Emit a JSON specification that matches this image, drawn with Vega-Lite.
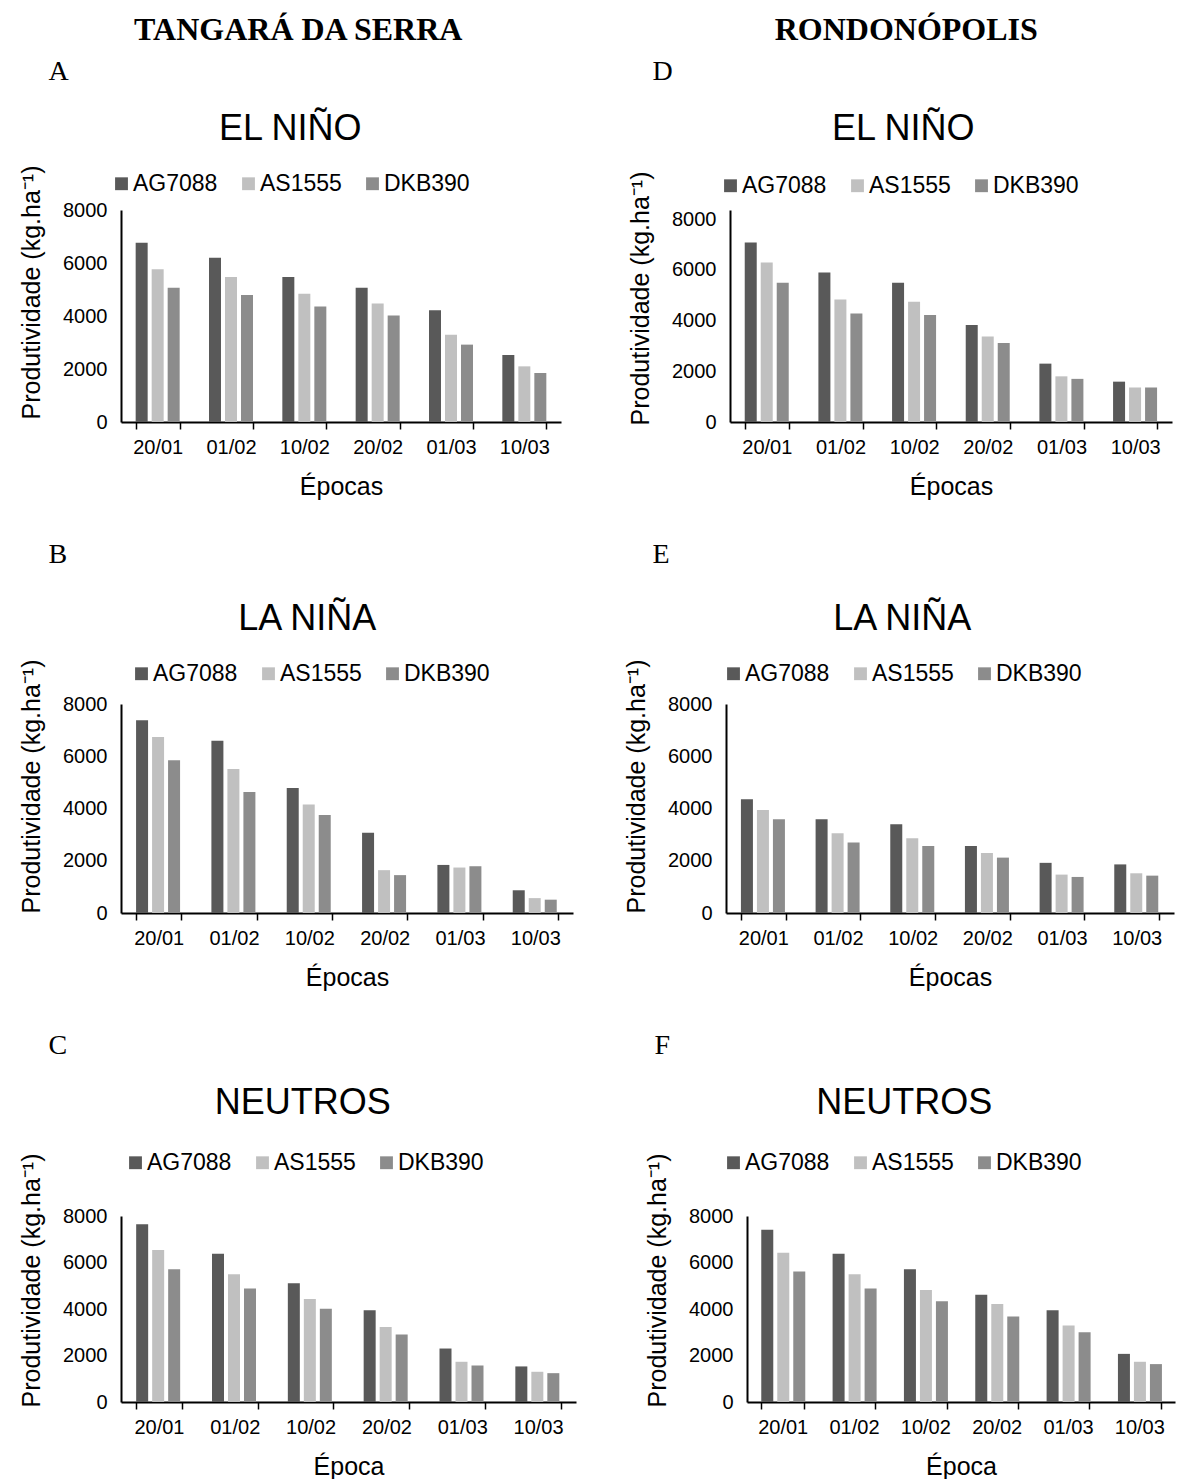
{
  "$schema": "https://vega.github.io/schema/vega-lite/v6.json",
  "background": "white",
  "padding": {"left": 19, "top": 14, "right": 2, "bottom": 0},
  "data": {"values": [
    {"painel":"A","epoca":"20/01","hibrido":"AG7088","prod":6760},{"painel":"A","epoca":"20/01","hibrido":"AS1555","prod":5760},{"painel":"A","epoca":"20/01","hibrido":"DKB390","prod":5070},
    {"painel":"A","epoca":"01/02","hibrido":"AG7088","prod":6200},{"painel":"A","epoca":"01/02","hibrido":"AS1555","prod":5470},{"painel":"A","epoca":"01/02","hibrido":"DKB390","prod":4790},
    {"painel":"A","epoca":"10/02","hibrido":"AG7088","prod":5470},{"painel":"A","epoca":"10/02","hibrido":"AS1555","prod":4840},{"painel":"A","epoca":"10/02","hibrido":"DKB390","prod":4360},
    {"painel":"A","epoca":"20/02","hibrido":"AG7088","prod":5070},{"painel":"A","epoca":"20/02","hibrido":"AS1555","prod":4470},{"painel":"A","epoca":"20/02","hibrido":"DKB390","prod":4020},
    {"painel":"A","epoca":"01/03","hibrido":"AG7088","prod":4220},{"painel":"A","epoca":"01/03","hibrido":"AS1555","prod":3290},{"painel":"A","epoca":"01/03","hibrido":"DKB390","prod":2920},
    {"painel":"A","epoca":"10/03","hibrido":"AG7088","prod":2530},{"painel":"A","epoca":"10/03","hibrido":"AS1555","prod":2100},{"painel":"A","epoca":"10/03","hibrido":"DKB390","prod":1850},
    {"painel":"D","epoca":"20/01","hibrido":"AG7088","prod":7070},{"painel":"D","epoca":"20/01","hibrido":"AS1555","prod":6290},{"painel":"D","epoca":"20/01","hibrido":"DKB390","prod":5490},
    {"painel":"D","epoca":"01/02","hibrido":"AG7088","prod":5890},{"painel":"D","epoca":"01/02","hibrido":"AS1555","prod":4830},{"painel":"D","epoca":"01/02","hibrido":"DKB390","prod":4280},
    {"painel":"D","epoca":"10/02","hibrido":"AG7088","prod":5490},{"painel":"D","epoca":"10/02","hibrido":"AS1555","prod":4740},{"painel":"D","epoca":"10/02","hibrido":"DKB390","prod":4220},
    {"painel":"D","epoca":"20/02","hibrido":"AG7088","prod":3820},{"painel":"D","epoca":"20/02","hibrido":"AS1555","prod":3370},{"painel":"D","epoca":"20/02","hibrido":"DKB390","prod":3110},
    {"painel":"D","epoca":"01/03","hibrido":"AG7088","prod":2300},{"painel":"D","epoca":"01/03","hibrido":"AS1555","prod":1800},{"painel":"D","epoca":"01/03","hibrido":"DKB390","prod":1700},
    {"painel":"D","epoca":"10/03","hibrido":"AG7088","prod":1590},{"painel":"D","epoca":"10/03","hibrido":"AS1555","prod":1360},{"painel":"D","epoca":"10/03","hibrido":"DKB390","prod":1360},
    {"painel":"B","epoca":"20/01","hibrido":"AG7088","prod":7380},{"painel":"B","epoca":"20/01","hibrido":"AS1555","prod":6740},{"painel":"B","epoca":"20/01","hibrido":"DKB390","prod":5850},
    {"painel":"B","epoca":"01/02","hibrido":"AG7088","prod":6590},{"painel":"B","epoca":"01/02","hibrido":"AS1555","prod":5510},{"painel":"B","epoca":"01/02","hibrido":"DKB390","prod":4630},
    {"painel":"B","epoca":"10/02","hibrido":"AG7088","prod":4780},{"painel":"B","epoca":"10/02","hibrido":"AS1555","prod":4150},{"painel":"B","epoca":"10/02","hibrido":"DKB390","prod":3750},
    {"painel":"B","epoca":"20/02","hibrido":"AG7088","prod":3070},{"painel":"B","epoca":"20/02","hibrido":"AS1555","prod":1640},{"painel":"B","epoca":"20/02","hibrido":"DKB390","prod":1450},
    {"painel":"B","epoca":"01/03","hibrido":"AG7088","prod":1840},{"painel":"B","epoca":"01/03","hibrido":"AS1555","prod":1740},{"painel":"B","epoca":"01/03","hibrido":"DKB390","prod":1790},
    {"painel":"B","epoca":"10/03","hibrido":"AG7088","prod":870},{"painel":"B","epoca":"10/03","hibrido":"AS1555","prod":570},{"painel":"B","epoca":"10/03","hibrido":"DKB390","prod":510},
    {"painel":"E","epoca":"20/01","hibrido":"AG7088","prod":4350},{"painel":"E","epoca":"20/01","hibrido":"AS1555","prod":3940},{"painel":"E","epoca":"20/01","hibrido":"DKB390","prod":3590},
    {"painel":"E","epoca":"01/02","hibrido":"AG7088","prod":3590},{"painel":"E","epoca":"01/02","hibrido":"AS1555","prod":3050},{"painel":"E","epoca":"01/02","hibrido":"DKB390","prod":2700},
    {"painel":"E","epoca":"10/02","hibrido":"AG7088","prod":3400},{"painel":"E","epoca":"10/02","hibrido":"AS1555","prod":2860},{"painel":"E","epoca":"10/02","hibrido":"DKB390","prod":2560},
    {"painel":"E","epoca":"20/02","hibrido":"AG7088","prod":2560},{"painel":"E","epoca":"20/02","hibrido":"AS1555","prod":2300},{"painel":"E","epoca":"20/02","hibrido":"DKB390","prod":2120},
    {"painel":"E","epoca":"01/03","hibrido":"AG7088","prod":1920},{"painel":"E","epoca":"01/03","hibrido":"AS1555","prod":1470},{"painel":"E","epoca":"01/03","hibrido":"DKB390","prod":1380},
    {"painel":"E","epoca":"10/03","hibrido":"AG7088","prod":1860},{"painel":"E","epoca":"10/03","hibrido":"AS1555","prod":1520},{"painel":"E","epoca":"10/03","hibrido":"DKB390","prod":1430},
    {"painel":"C","epoca":"20/01","hibrido":"AG7088","prod":7640},{"painel":"C","epoca":"20/01","hibrido":"AS1555","prod":6540},{"painel":"C","epoca":"20/01","hibrido":"DKB390","prod":5710},
    {"painel":"C","epoca":"01/02","hibrido":"AG7088","prod":6380},{"painel":"C","epoca":"01/02","hibrido":"AS1555","prod":5490},{"painel":"C","epoca":"01/02","hibrido":"DKB390","prod":4880},
    {"painel":"C","epoca":"10/02","hibrido":"AG7088","prod":5110},{"painel":"C","epoca":"10/02","hibrido":"AS1555","prod":4430},{"painel":"C","epoca":"10/02","hibrido":"DKB390","prod":4010},
    {"painel":"C","epoca":"20/02","hibrido":"AG7088","prod":3950},{"painel":"C","epoca":"20/02","hibrido":"AS1555","prod":3230},{"painel":"C","epoca":"20/02","hibrido":"DKB390","prod":2900},
    {"painel":"C","epoca":"01/03","hibrido":"AG7088","prod":2300},{"painel":"C","epoca":"01/03","hibrido":"AS1555","prod":1730},{"painel":"C","epoca":"01/03","hibrido":"DKB390","prod":1570},
    {"painel":"C","epoca":"10/03","hibrido":"AG7088","prod":1530},{"painel":"C","epoca":"10/03","hibrido":"AS1555","prod":1300},{"painel":"C","epoca":"10/03","hibrido":"DKB390","prod":1240},
    {"painel":"F","epoca":"20/01","hibrido":"AG7088","prod":7410},{"painel":"F","epoca":"20/01","hibrido":"AS1555","prod":6420},{"painel":"F","epoca":"20/01","hibrido":"DKB390","prod":5610},
    {"painel":"F","epoca":"01/02","hibrido":"AG7088","prod":6380},{"painel":"F","epoca":"01/02","hibrido":"AS1555","prod":5490},{"painel":"F","epoca":"01/02","hibrido":"DKB390","prod":4880},
    {"painel":"F","epoca":"10/02","hibrido":"AG7088","prod":5710},{"painel":"F","epoca":"10/02","hibrido":"AS1555","prod":4820},{"painel":"F","epoca":"10/02","hibrido":"DKB390","prod":4330},
    {"painel":"F","epoca":"20/02","hibrido":"AG7088","prod":4610},{"painel":"F","epoca":"20/02","hibrido":"AS1555","prod":4220},{"painel":"F","epoca":"20/02","hibrido":"DKB390","prod":3680},
    {"painel":"F","epoca":"01/03","hibrido":"AG7088","prod":3950},{"painel":"F","epoca":"01/03","hibrido":"AS1555","prod":3290},{"painel":"F","epoca":"01/03","hibrido":"DKB390","prod":3000},
    {"painel":"F","epoca":"10/03","hibrido":"AG7088","prod":2070},{"painel":"F","epoca":"10/03","hibrido":"AS1555","prod":1730},{"painel":"F","epoca":"10/03","hibrido":"DKB390","prod":1630}
  ]},
  "resolve": {"scale": {"x": "independent", "y": "independent", "color": "independent"}, "legend": {"color": "independent"}},
  "spacing": 42,
  "vconcat": [
    {
      "resolve": {"scale": {"x": "independent", "y": "independent", "color": "independent"}, "legend": {"color": "independent"}},
      "spacing": 67,
      "hconcat": [
        {
          "title": {"text": "TANGARÁ DA SERRA", "font": "Liberation Serif", "fontWeight": "bold", "fontSize": 32, "anchor": "middle", "frame": "bounds", "dx": 8, "offset": 11},
          "resolve": {"scale": {"color": "independent"}, "legend": {"color": "independent"}},
          "vconcat": [
            {
              "title": {"text": "A", "font": "Liberation Serif", "fontWeight": "normal", "fontSize": 28, "anchor": "start", "frame": "bounds", "dx": 29, "offset": 25},
              "resolve": {"scale": {"color": "independent"}, "legend": {"color": "independent"}},
              "vconcat": [
                {
                  "title": {"text": "EL NIÑO", "fontSize": 36, "frame": "bounds", "anchor": "middle", "offset": 17},
                  "width": 440, "height": 212,
                  "transform": [{"filter": "datum.painel === 'A'"}],
                  "mark": {"type": "bar"},
                  "encoding": {
                    "x": {"field": "epoca", "type": "nominal", "sort": ["20/01","01/02","10/02","20/02","01/03","10/03"], "scale": {"paddingInner": 0.4, "paddingOuter": 0.2}, "title": "Épocas"},
                    "xOffset": {"field": "hibrido", "type": "nominal", "sort": ["AG7088","AS1555","DKB390"], "scale": {"paddingInner": 0.25, "paddingOuter": 0}},
                    "y": {"field": "prod", "type": "quantitative", "scale": {"domain": [0, 8000], "nice": false}, "axis": {"values": [0,2000,4000,6000,8000], "format": "d", "titleY": 82}, "title": "Produtividade (kg.ha⁻¹)"},
                    "color": {"field": "hibrido", "type": "nominal", "scale": {"domain": ["AG7088","AS1555","DKB390"], "range": ["#595959","#c0c0c0","#8c8c8c"]}, "legend": {"title": null, "orient": "none", "legendX": -11, "legendY": -38}}
                  }
                }
              ]
            }
          ]
        },
        {
          "title": {"text": "RONDONÓPOLIS", "font": "Liberation Serif", "fontWeight": "bold", "fontSize": 32, "anchor": "middle", "frame": "bounds", "dx": 6, "offset": 11},
          "resolve": {"scale": {"color": "independent"}, "legend": {"color": "independent"}},
          "vconcat": [
            {
              "title": {"text": "D", "font": "Liberation Serif", "fontWeight": "normal", "fontSize": 28, "anchor": "start", "frame": "bounds", "dx": 24, "offset": 25},
              "resolve": {"scale": {"color": "independent"}, "legend": {"color": "independent"}},
              "vconcat": [
                {
                  "title": {"text": "EL NIÑO", "fontSize": 36, "frame": "bounds", "anchor": "middle", "offset": 23, "dx": 3},
                  "width": 442, "height": 212,
                  "transform": [{"filter": "datum.painel === 'D'"}],
                  "mark": {"type": "bar"},
                  "encoding": {
                    "x": {"field": "epoca", "type": "nominal", "sort": ["20/01","01/02","10/02","20/02","01/03","10/03"], "scale": {"paddingInner": 0.4, "paddingOuter": 0.2}, "title": "Épocas"},
                    "xOffset": {"field": "hibrido", "type": "nominal", "sort": ["AG7088","AS1555","DKB390"], "scale": {"paddingInner": 0.25, "paddingOuter": 0}},
                    "y": {"field": "prod", "type": "quantitative", "scale": {"domain": [0, 8355], "nice": false}, "axis": {"values": [0,2000,4000,6000,8000], "format": "d", "titleY": 88}, "title": "Produtividade (kg.ha⁻¹)"},
                    "color": {"field": "hibrido", "type": "nominal", "scale": {"domain": ["AG7088","AS1555","DKB390"], "range": ["#595959","#c0c0c0","#8c8c8c"]}, "legend": {"title": null, "orient": "none", "legendX": -11, "legendY": -36}}
                  }
                }
              ]
            }
          ]
        }
      ]
    },
    {
      "resolve": {"scale": {"x": "independent", "y": "independent", "color": "independent"}, "legend": {"color": "independent"}},
      "spacing": 51,
      "hconcat": [
        {
          "title": {"text": "B", "font": "Liberation Serif", "fontWeight": "normal", "fontSize": 28, "anchor": "start", "frame": "bounds", "dx": 29, "offset": 32},
          "resolve": {"scale": {"color": "independent"}, "legend": {"color": "independent"}},
          "vconcat": [
            {
              "title": {"text": "LA NIÑA", "fontSize": 36, "frame": "bounds", "anchor": "middle", "offset": 21, "dx": 11},
              "width": 452, "height": 209,
              "transform": [{"filter": "datum.painel === 'B'"}],
              "mark": {"type": "bar"},
              "encoding": {
                "x": {"field": "epoca", "type": "nominal", "sort": ["20/01","01/02","10/02","20/02","01/03","10/03"], "scale": {"paddingInner": 0.4, "paddingOuter": 0.2}, "title": "Épocas"},
                "xOffset": {"field": "hibrido", "type": "nominal", "sort": ["AG7088","AS1555","DKB390"], "scale": {"paddingInner": 0.25, "paddingOuter": 0}},
                "y": {"field": "prod", "type": "quantitative", "scale": {"domain": [0, 8000], "nice": false}, "axis": {"values": [0,2000,4000,6000,8000], "format": "d", "titleY": 82}, "title": "Produtividade (kg.ha⁻¹)"},
                "color": {"field": "hibrido", "type": "nominal", "scale": {"domain": ["AG7088","AS1555","DKB390"], "range": ["#595959","#c0c0c0","#8c8c8c"]}, "legend": {"title": null, "orient": "none", "legendX": 9, "legendY": -42}}
              }
            }
          ]
        },
        {
          "title": {"text": "E", "font": "Liberation Serif", "fontWeight": "normal", "fontSize": 28, "anchor": "start", "frame": "bounds", "dx": 28, "offset": 32},
          "resolve": {"scale": {"color": "independent"}, "legend": {"color": "independent"}},
          "vconcat": [
            {
              "title": {"text": "LA NIÑA", "fontSize": 36, "frame": "bounds", "anchor": "middle", "offset": 21, "dx": 3},
              "width": 448, "height": 209,
              "transform": [{"filter": "datum.painel === 'E'"}],
              "mark": {"type": "bar"},
              "encoding": {
                "x": {"field": "epoca", "type": "nominal", "sort": ["20/01","01/02","10/02","20/02","01/03","10/03"], "scale": {"paddingInner": 0.4, "paddingOuter": 0.2}, "title": "Épocas"},
                "xOffset": {"field": "hibrido", "type": "nominal", "sort": ["AG7088","AS1555","DKB390"], "scale": {"paddingInner": 0.25, "paddingOuter": 0}},
                "y": {"field": "prod", "type": "quantitative", "scale": {"domain": [0, 8000], "nice": false}, "axis": {"values": [0,2000,4000,6000,8000], "format": "d", "titleY": 82}, "title": "Produtividade (kg.ha⁻¹)"},
                "color": {"field": "hibrido", "type": "nominal", "scale": {"domain": ["AG7088","AS1555","DKB390"], "range": ["#595959","#c0c0c0","#8c8c8c"]}, "legend": {"title": null, "orient": "none", "legendX": -4, "legendY": -42}}
              }
            }
          ]
        }
      ]
    },
    {
      "resolve": {"scale": {"x": "independent", "y": "independent", "color": "independent"}, "legend": {"color": "independent"}},
      "spacing": 69,
      "hconcat": [
        {
          "title": {"text": "C", "font": "Liberation Serif", "fontWeight": "normal", "fontSize": 28, "anchor": "start", "frame": "bounds", "dx": 29, "offset": 25},
          "resolve": {"scale": {"color": "independent"}, "legend": {"color": "independent"}},
          "vconcat": [
            {
              "title": {"text": "NEUTROS", "fontSize": 36, "frame": "bounds", "anchor": "middle", "offset": 29, "dx": 5},
              "width": 455, "height": 186,
              "transform": [{"filter": "datum.painel === 'C'"}],
              "mark": {"type": "bar"},
              "encoding": {
                "x": {"field": "epoca", "type": "nominal", "sort": ["20/01","01/02","10/02","20/02","01/03","10/03"], "scale": {"paddingInner": 0.4, "paddingOuter": 0.2}, "title": "Época"},
                "xOffset": {"field": "hibrido", "type": "nominal", "sort": ["AG7088","AS1555","DKB390"], "scale": {"paddingInner": 0.25, "paddingOuter": 0}},
                "y": {"field": "prod", "type": "quantitative", "scale": {"domain": [0, 8000], "nice": false}, "axis": {"values": [0,2000,4000,6000,8000], "format": "d", "titleY": 64}, "title": "Produtividade (kg.ha⁻¹)"},
                "color": {"field": "hibrido", "type": "nominal", "scale": {"domain": ["AG7088","AS1555","DKB390"], "range": ["#595959","#c0c0c0","#8c8c8c"]}, "legend": {"title": null, "orient": "none", "legendX": 3, "legendY": -65}}
              }
            }
          ]
        },
        {
          "title": {"text": "F", "font": "Liberation Serif", "fontWeight": "normal", "fontSize": 28, "anchor": "start", "frame": "bounds", "dx": 9, "offset": 25},
          "resolve": {"scale": {"color": "independent"}, "legend": {"color": "independent"}},
          "vconcat": [
            {
              "title": {"text": "NEUTROS", "fontSize": 36, "frame": "bounds", "anchor": "middle", "offset": 29, "dx": -6},
              "width": 428, "height": 186,
              "transform": [{"filter": "datum.painel === 'F'"}],
              "mark": {"type": "bar"},
              "encoding": {
                "x": {"field": "epoca", "type": "nominal", "sort": ["20/01","01/02","10/02","20/02","01/03","10/03"], "scale": {"paddingInner": 0.4, "paddingOuter": 0.2}, "title": "Época"},
                "xOffset": {"field": "hibrido", "type": "nominal", "sort": ["AG7088","AS1555","DKB390"], "scale": {"paddingInner": 0.25, "paddingOuter": 0}},
                "y": {"field": "prod", "type": "quantitative", "scale": {"domain": [0, 8000], "nice": false}, "axis": {"values": [0,2000,4000,6000,8000], "format": "d", "titleY": 64}, "title": "Produtividade (kg.ha⁻¹)"},
                "color": {"field": "hibrido", "type": "nominal", "scale": {"domain": ["AG7088","AS1555","DKB390"], "range": ["#595959","#c0c0c0","#8c8c8c"]}, "legend": {"title": null, "orient": "none", "legendX": -25, "legendY": -65}}
              }
            }
          ]
        }
      ]
    }
  ],
  "config": {
    "view": {"stroke": null},
    "font": "Liberation Sans",
    "title": {"font": "Liberation Sans", "fontWeight": "normal", "color": "#000"},
    "axis": {"labelFont": "Liberation Sans", "titleFont": "Liberation Sans", "labelColor": "#000", "titleColor": "#000", "domainColor": "#000", "tickColor": "#000", "grid": false, "titleFontWeight": "normal", "labelFontSize": 20, "titleFontSize": 25},
    "axisX": {"labelAngle": 0, "tickBand": "extent", "tickSize": 7, "tickWidth": 1.5, "domainWidth": 2, "labelPadding": 8, "titlePadding": 17},
    "axisY": {"ticks": false, "tickSize": 0, "domainWidth": 2, "labelPadding": 14, "titlePadding": 18},
    "legend": {"direction": "horizontal", "labelFontSize": 23, "labelFont": "Liberation Sans", "labelColor": "#000", "symbolType": "square", "symbolSize": 165, "symbolStrokeWidth": 0, "symbolOpacity": 1, "columnPadding": 19, "labelOffset": 0}
  }
}
